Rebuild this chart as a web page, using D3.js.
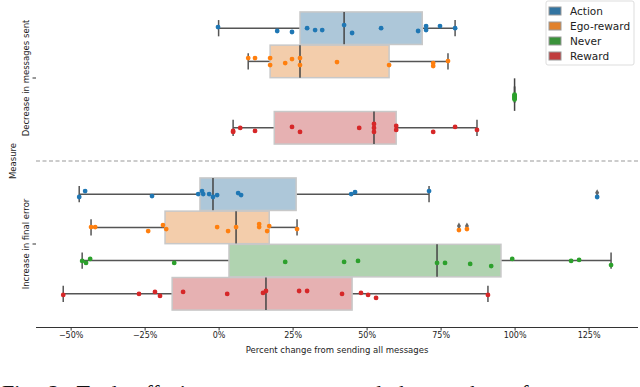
<!DOCTYPE html>
<html>
<head>
  <meta charset="utf-8">
  <title>trade-offs</title>
  <style>
    body { margin: 0; background: #fff; overflow: hidden; }
    svg { font-family: "DejaVu Sans", sans-serif; display: block; }
  </style>
</head>
<body>
  <svg id="chart" width="640" height="387"></svg>
  <script src="https://cdn.jsdelivr.net/npm/d3@7"></script>
  <script>
  // categories on the y axis and the hue levels
  var measures = ["Decrease in messages sent", "Increase in final error"];
  var strategies = ["Action", "Ego-reward", "Never", "Reward"];
  var xTicks = [-50, -25, 0, 25, 50, 75, 100, 125];

  // box stats per strategy: [whisker low, q1, median, q3, whisker high]
  var statsSent = [
    [0, 27.5, 42.4, 68.8, 79.9],
    [10.0, 17.4, 27.5, 57.6, 77.5],
    [100, 100, 100, 100, 100],
    [4.9, 18.8, 52.5, 60.0, 87.3]
  ];
  var statsError = [
    [-47.1, -6.3, -1.9, 26.2, 71.1],
    [-43.1, -18.1, 5.9, 17.1, 26.5],
    [-46.1, 3.5, 73.8, 95.4, 132.6],
    [-52.5, -15.7, 16.0, 45.1, 91.0]
  ];
  // outliers shown as fliers
  var fliersSent = [[], [], [], []];
  var fliersError = [[127.9], [81.2, 83.9], [], []];

  // strip points: [value, jitter in category units]
  var ptsSent = [
    [[-0.2,-0.007],[19.8,0.017],[24.8,0.023],[29.9,0],[32.6,0.011],[35.0,0.011],[42.4,-0.019],
     [45.1,0.029],[54.9,0],[67.4,0.017],[70.1,-0.013],[70.1,0.011],[74.8,-0.013],[79.9,0]],
    [[10.0,-0.02],[12.3,-0.02],[17.4,-0.02],[17.4,0.022],[22.5,0.01],[24.8,-0.014],[27.5,-0.02],
     [27.5,0.022],[40.0,0.004],[57.6,0.022],[72.5,0.01],[72.5,0.028],[77.5,-0.002]],
    [[100,0],[100,0.006],[100,0.012],[100,0.018],[100,0.024],[100,0.03]],
    [[4.9,0.019],[4.9,0.025],[7.3,0.001],[12.3,0.019],[24.8,-0.005],[27.5,0.025],[47.5,0.001],
     [52.5,-0.023],[52.5,0.001],[52.5,0.025],[60.0,-0.011],[60.0,0.013],[72.5,0.025],[79.9,-0.005],[87.3,0.013]]
  ];
  var ptsError = [
    [[-47.1,0.017],[-45.1,-0.019],[-22.5,0.011],[-6.9,-0.001],[-5.6,-0.019],[-5.2,-0.001],[-3.2,-0.001],
     [-1.9,0.017],[-0.5,0.005],[6.6,-0.007],[7.6,0.005],[44.8,-0.001],[46.1,-0.013],[71.1,-0.019],[127.9,0.017]],
    [[-43.1,-0.002],[-41.7,-0.002],[-23.8,0.022],[-18.8,-0.014],[-17.7,0.01],[-0.5,-0.002],[3.2,0.022],
     [5.9,-0.002],[13.7,-0.02],[13.7,-0.002],[17.1,-0.008],[16.4,0.022],[26.5,0.01],[81.2,0.016],[83.9,0.01]],
    [[-46.1,0.002],[-44.8,0.014],[-43.4,-0.01],[-15.0,0.014],[22.5,0.008],[42.4,0.008],[47.1,0.002],
     [73.8,0.014],[76.5,0.014],[85.0,0.02],[92.1,0.033],[99.2,-0.01],[119.1,0.002],[121.8,-0.004],[132.6,0.027]],
    [[-52.5,0.007],[-26.9,0.001],[-21.5,-0.011],[-19.8,0.013],[-12.0,-0.011],[2.9,0.001],[15.0,-0.005],
     [16.0,-0.017],[27.2,-0.017],[29.9,-0.017],[41.7,0.001],[48.1,-0.005],[50.5,0.007],[53.2,0.025],[91.0,0.007]]
  ];

  var boxColors = ["#3274a1", "#e1812c", "#3a923a", "#c03d3e"];   // seaborn-desaturated
  var dotColors = ["#1f77b4", "#ff7f0e", "#2ca02c", "#d62728"];

  var svg = d3.select("#chart");
  var x = d3.scaleLinear().domain([-61.7, 141.7]).range([36, 638]);
  var y = d3.scaleLinear().domain([-0.5, 1.5]).range([-5, 327]);
  var slot = 0.2;                       // 0.8 width split across 4 hues
  var boxH = y(slot * 0.98) - y(0);
  var hueOffset = function(i) { return -0.4 + slot/2 + i*slot; };

  var groups = [
    {stats: statsSent, pts: ptsSent, fliers: fliersSent},
    {stats: statsError, pts: ptsError, fliers: fliersError}
  ];

  // dashed separator between the two measures
  svg.append("line")
      .attr("x1", 36).attr("x2", 638)
      .attr("y1", y(0.5)).attr("y2", y(0.5))
      .attr("stroke", "#999").attr("stroke-width", 1)
      .attr("stroke-dasharray", "4,2.5");

  groups.forEach(function(g, mi) {
    strategies.forEach(function(s, si) {
      var st = g.stats[si];
      var cy = y(mi + hueOffset(si));
      var gg = svg.append("g");
      // whiskers
      gg.append("line").attr("x1", x(st[0])).attr("x2", x(st[1]))
          .attr("y1", cy).attr("y2", cy);
      gg.append("line").attr("x1", x(st[3])).attr("x2", x(st[4]))
          .attr("y1", cy).attr("y2", cy);
      // caps
      [st[0], st[4]].forEach(function(v) {
        gg.append("line").attr("x1", x(v)).attr("x2", x(v))
            .attr("y1", cy - boxH/4).attr("y2", cy + boxH/4);
      });
      gg.selectAll("line").attr("stroke", "#555").attr("stroke-width", 1.5);
      // box
      gg.append("rect")
          .attr("x", x(st[1])).attr("y", cy - boxH/2)
          .attr("width", Math.max(0, x(st[3]) - x(st[1]))).attr("height", boxH)
          .attr("fill", boxColors[si]).attr("fill-opacity", 0.4)
          .attr("stroke", "#c8c8c8").attr("stroke-width", 1.5);
      // median
      gg.append("line").attr("x1", x(st[2])).attr("x2", x(st[2]))
          .attr("y1", cy - boxH/2).attr("y2", cy + boxH/2)
          .attr("stroke", "#444").attr("stroke-width", 1.5);
      // fliers (diamonds), mostly hidden under the strip points
      gg.selectAll("path.flier").data(g.fliers[si]).enter().append("path")
          .attr("class", "flier")
          .attr("d", d3.symbol(d3.symbolDiamond, 14))
          .attr("transform", function(d) { return "translate(" + x(d) + "," + (cy - 1.5) + ")"; })
          .attr("fill", "#666");
      // strip points
      gg.selectAll("circle").data(g.pts[si]).enter().append("circle")
          .attr("cx", function(d) { return x(d[0]); })
          .attr("cy", function(d) { return y(mi + hueOffset(si) + d[1]); })
          .attr("r", 2.4)
          .attr("fill", dotColors[si]);
    });
  });

  // x axis
  var xAxis = svg.append("g")
      .attr("transform", "translate(0,327)")
      .call(d3.axisBottom(x).tickValues(xTicks).tickSize(3.5).tickPadding(2)
            .tickFormat(function(d) { return (d < 0 ? "\u2212" + (-d) : d) + "%"; }));
  xAxis.select(".domain").attr("stroke", "#333").attr("d", "M36,0.5H638");
  xAxis.selectAll(".tick line").attr("stroke", "#333");
  xAxis.selectAll("text").attr("font-family", "DejaVu Sans").attr("font-size", 8).attr("fill", "#222");

  svg.append("text")
      .attr("x", 337).attr("y", 353)
      .attr("text-anchor", "middle")
      .attr("font-size", 8.5).attr("fill", "#222")
      .text("Percent change from sending all messages");

  // y ticks and rotated labels
  measures.forEach(function(m, i) {
    svg.append("line")
        .attr("x1", 32.5).attr("x2", 36)
        .attr("y1", y(i)).attr("y2", y(i))
        .attr("stroke", "#333");
    svg.append("text")
        .attr("transform", "translate(29," + y(i) + ") rotate(-90)")
        .attr("text-anchor", "middle")
        .attr("font-size", 8.5).attr("fill", "#222")
        .text(m);
  });
  svg.append("text")
      .attr("transform", "translate(16," + y(0.5) + ") rotate(-90)")
      .attr("text-anchor", "middle")
      .attr("font-size", 8.5).attr("fill", "#222")
      .text("Measure");

  // legend
  var leg = svg.append("g").attr("transform", "translate(546,1)");
  leg.append("rect")
      .attr("width", 88).attr("height", 64).attr("rx", 2)
      .attr("fill", "#fff").attr("fill-opacity", 0.8)
      .attr("stroke", "#ddd");
  strategies.forEach(function(s, i) {
    var row = leg.append("g").attr("transform", "translate(3," + (6 + i*15) + ")");
    row.append("rect")
        .attr("width", 12).attr("height", 8)
        .attr("fill", boxColors[i]).attr("stroke", "#999").attr("stroke-width", 1);
    row.append("text")
        .attr("x", 21).attr("y", 4).attr("dy", "0.35em")
        .attr("font-size", 10.5).attr("fill", "#222")
        .text(s);
  });

  // caption of the figure, cut by the bottom edge as in the source page
  svg.append("text")
      .attr("x", 2).attr("y", 400)
      .attr("font-family", "Liberation Serif")
      .attr("font-size", 22).attr("fill", "#111")
      .attr("word-spacing", 6)
      .text("Fig. 2:  Trade-offs in messages sent and the number of errors");
  </script>
</body>
</html>
